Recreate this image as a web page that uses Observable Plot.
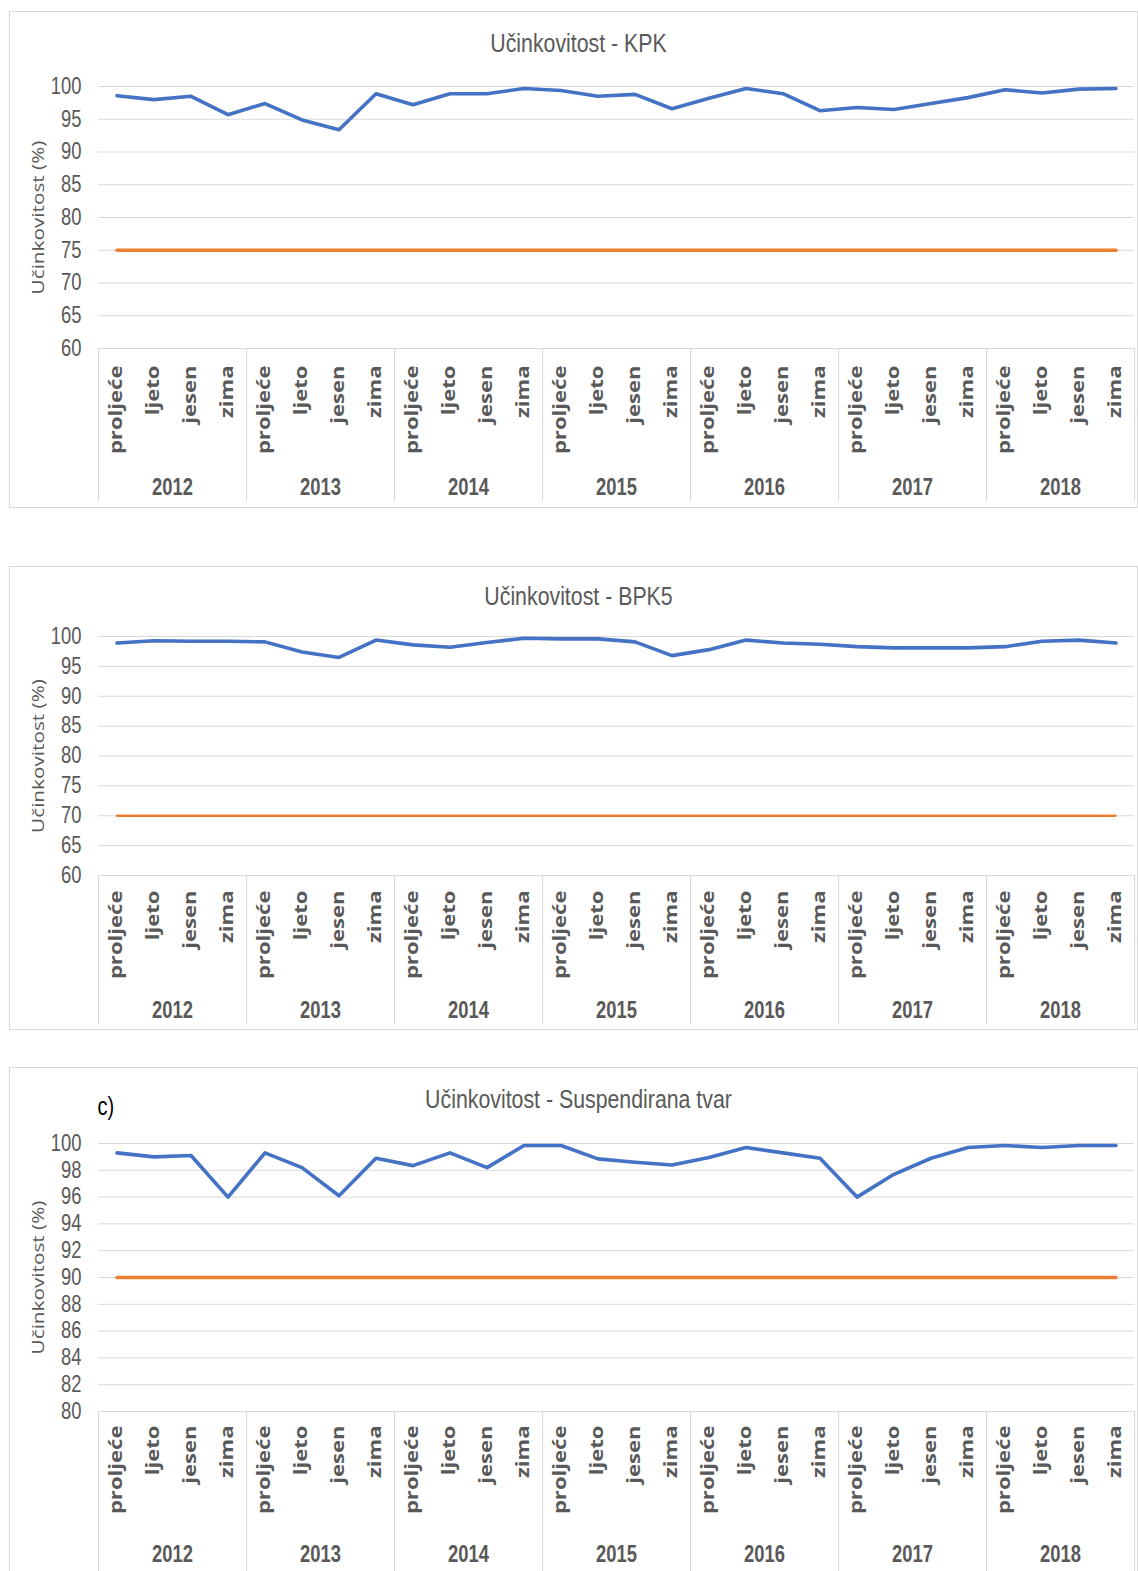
<!DOCTYPE html>
<html>
<head>
<meta charset="utf-8">
<script src="https://cdn.jsdelivr.net/npm/d3@7"></script>
<script src="https://cdn.jsdelivr.net/npm/@observablehq/plot@0.6"></script>
<style>
  html, body { margin: 0; padding: 0; background: #fff; }
  body { position: relative; width: 1138px; height: 1571px; overflow: hidden; }
  .box { position: absolute; border: 1px solid #D9D9D9; box-sizing: border-box; }
  .plot { position: absolute; left: 0; }
</style>
</head>
<body>
<div id="root"></div>
<script>
// ---------- data ----------
const years = [2012, 2013, 2014, 2015, 2016, 2017, 2018];
const seasons = ["proljeće", "ljeto", "jesen", "zima"];

const kpk = [98.6, 98.0, 98.5, 95.7, 97.4, 94.9, 93.4, 98.9, 97.2, 98.9, 98.9, 99.7,
             99.4, 98.5, 98.8, 96.6, 98.2, 99.7, 98.9, 96.3, 96.8, 96.5, 97.4, 98.3,
             99.5, 99.0, 99.6, 99.7];
const bpk5 = [98.9, 99.3, 99.2, 99.2, 99.1, 97.4, 96.5, 99.4, 98.6, 98.2, 99.0, 99.7,
              99.6, 99.6, 99.1, 96.8, 97.8, 99.4, 98.9, 98.7, 98.3, 98.1, 98.1, 98.1,
              98.3, 99.2, 99.4, 98.9];
const ss = [99.3, 99.0, 99.1, 96.0, 99.3, 98.2, 96.1, 98.9, 98.35, 99.3, 98.2, 99.85,
            99.85, 98.85, 98.6, 98.4, 98.95, 99.7, 99.3, 98.9, 96.0, 97.7, 98.9, 99.7,
            99.85, 99.7, 99.85, 99.85];

const limitKPK = 75;
const limitBPK5 = 70;
const limitSS = 90;

const titles = ["Učinkovitost - KPK", "Učinkovitost - BPK5", "Učinkovitost - Suspendirana tvar"];
const yTitle = "Učinkovitost (%)";
const ticksA = [60, 65, 70, 75, 80, 85, 90, 95, 100];
const ticksC = [80, 82, 84, 86, 88, 90, 92, 94, 96, 98, 100];

// ---------- layout ----------
const W = 1138;
const sans = "'Liberation Sans', Arial, sans-serif";
const open = "'Open Sans', sans-serif";
const grey = "#595959";
const grid = "#D9D9D9";

const panels = [
  {values: kpk, limit: limitKPK, title: titles[0], ticks: ticksA, domain: [60, 100],
   top: 11, boxH: 497, height: 497, mt: 75, mb: 160, titleDy: -43, seasonDy: 17, yearDy: 139, sepLen: 153,
   limitWidth: 3.5, limitDash: null, tag: null},
  {values: bpk5, limit: limitBPK5, title: titles[1], ticks: ticksA, domain: [60, 100],
   top: 566, boxH: 464, height: 464, mt: 70, mb: 155, titleDy: -40, seasonDy: 15, yearDy: 135, sepLen: 149,
   limitWidth: 2.6, limitDash: "3,1.2", tag: null},
  {values: ss, limit: limitSS, title: titles[2], ticks: ticksC, domain: [80, 100],
   top: 1067, boxH: 530, height: 504, mt: 76, mb: 160, titleDy: -44, seasonDy: 14, yearDy: 143, sepLen: 170,
   limitWidth: 3.5, limitDash: null, tag: "c)"}
];

const root = document.getElementById("root");

function stretch(svg, desc, sx, sy) {
  svg.querySelectorAll(`g[aria-description="${desc}"] text`).forEach(t => {
    const tr = t.getAttribute("transform") || "";
    t.setAttribute("transform", tr + ` scale(${sx},${sy})`);
  });
}

panels.forEach(p => {
  const rows = [];
  years.forEach((yr, yi) => seasons.forEach((s, si) => {
    const i = yi * 4 + si;
    rows.push({i, year: yr, season: s, value: p.values[i], limit: p.limit});
  }));
  const yearRows = years.map((yr, yi) => ({year: yr, mid: yi * 4 + 1.5}));
  const bounds = d3.range(years.length + 1).map(k => k * 4 - 0.5);
  const frameH = p.height - p.mt - p.mb;

  const marks = [
    Plot.ruleY(p.ticks, {stroke: grid, strokeWidth: 1}),
    Plot.ruleX(bounds, {x: d => d, stroke: grid, strokeWidth: 1, insetTop: frameH, insetBottom: -p.sepLen}),
    Plot.line(rows, {x: "i", y: "limit", stroke: "#ED7D31", strokeWidth: p.limitWidth,
      strokeDasharray: p.limitDash, strokeLinecap: "round"}),
    Plot.line(rows, {x: "i", y: "value", stroke: "#4472C4", strokeWidth: 3.6,
      strokeLinejoin: "round", strokeLinecap: "round"}),
    // y tick labels
    Plot.text(p.ticks, {y: d => d, text: d => String(d), frameAnchor: "left", dx: -17,
      textAnchor: "end", lineAnchor: "middle", fontFamily: sans, fontSize: 23, fill: grey,
      ariaDescription: "narrow"}),
    // season labels
    Plot.text(rows, {x: "i", text: "season", frameAnchor: "bottom", dy: p.seasonDy, rotate: -90,
      textAnchor: "end", lineAnchor: "middle", fontFamily: open, fontWeight: "bold",
      fontSize: 17, fill: grey, ariaDescription: "season"}),
    // year labels
    Plot.text(yearRows, {x: "mid", text: d => String(d.year), frameAnchor: "bottom", dy: p.yearDy,
      lineAnchor: "middle", fontFamily: sans, fontWeight: "bold", fontSize: 23, fill: grey,
      ariaDescription: "narrow"}),
    // title
    Plot.text([p.title], {frameAnchor: "top", dx: -38, dy: p.titleDy, lineAnchor: "middle",
      fontFamily: sans, fontSize: 26, fill: grey, ariaDescription: "titlenarrow"}),
    // y title
    Plot.text([yTitle], {frameAnchor: "left", dx: -60, rotate: -90, textAnchor: "middle",
      lineAnchor: "middle", fontFamily: open, fontSize: 17, fill: grey, ariaDescription: "ytitle"})
  ];
  if (p.tag) {
    marks.push(Plot.text([p.tag], {frameAnchor: "top-left", dx: -1, dy: -37, textAnchor: "start",
      lineAnchor: "middle", fontFamily: sans, fontSize: 25, fill: "#000", ariaDescription: "narrow"}));
  }

  const chart = Plot.plot({
    width: W,
    height: p.height,
    marginLeft: 98,
    marginRight: 4,
    marginTop: p.mt,
    marginBottom: p.mb,
    style: {background: "transparent", overflow: "visible", fontFamily: sans, color: grey},
    x: {domain: [-0.5, 27.5], axis: null},
    y: {domain: p.domain, axis: null},
    marks
  });
  stretch(chart, "season", 1.3, 1);
  stretch(chart, "ytitle", 1.22, 1);
  stretch(chart, "narrow", 0.8, 1);
  stretch(chart, "titlenarrow", 0.82, 1);

  const box = document.createElement("div");
  box.className = "box";
  box.style.left = "9px";
  box.style.top = p.top + "px";
  box.style.width = (1138 - 9) + "px";
  box.style.height = p.boxH + "px";
  root.appendChild(box);

  chart.classList.add("plot");
  chart.style.top = p.top + "px";
  chart.style.position = "absolute";
  root.appendChild(chart);
});
</script>
</body>
</html>
